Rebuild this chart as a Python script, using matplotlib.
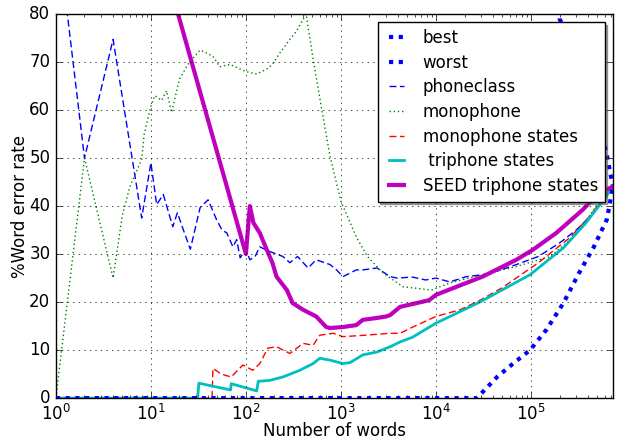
import matplotlib
matplotlib.use("Agg")
import matplotlib.pyplot as plt

# values (x = number of words, y = %word error rate)
best_n = [1, 2.7e4, 4.4e4, 6.5e4, 9.8e4, 1.45e5, 2.2e5, 3.2e5, 4.6e5, 6.3e5, 7.3e5]
best_err = [0, 0, 4.4, 7.2, 10, 14.2, 19.8, 26, 31.5, 37.2, 44]

worst_n = [1, 1.8e5, 2e5, 3e5, 4e5, 5e5, 6.3e5, 7.3e5]
worst_err = [100, 100, 79, 72.4, 65.8, 59.2, 50.6, 44]

phoneclass_n = [1, 2, 4, 8, 10, 11.5, 13.5, 17, 19, 22, 26, 33, 40, 49, 56, 63, 73, 80,
                87, 100, 110, 125, 140, 180, 245, 290, 350, 450, 550, 770, 900, 1050,
                1450, 1700, 2400, 3300, 3900, 5700, 7800, 1e4, 1.4e4, 2.1e4, 3.1e4,
                4.5e4, 7e4, 1.2e5, 2e5, 3e5, 4.6e5, 6e5, 7.3e5]
phoneclass_err = [100, 50, 74.7, 37.5, 49, 40.3, 42.4, 35.7, 38.6, 35, 31, 39.7, 41.3,
                  37.2, 35, 34.4, 31.5, 33, 29.2, 31, 28.8, 29.5, 31.5, 30.5, 29.5,
                  28.2, 29.5, 27.1, 28.8, 27.8, 26.7, 25.3, 26.7, 26.7, 27.1, 25.3, 25,
                  25.2, 24.6, 25, 24.2, 25.3, 25.7, 26.5, 27.8, 29.5, 32.3, 35, 38.6,
                  41.5, 44]

mono_n = [1, 2, 4, 5, 6, 8, 8.5, 10, 11, 13, 14.6, 16.5, 20, 25, 33, 45, 53, 68, 100,
          130, 165, 190, 230, 290, 340, 430, 510, 630, 770, 1000, 1450, 1900, 2800,
          4500, 9000, 1.4e4, 3.1e4, 7e4, 1.6e5, 2.6e5, 3.8e5, 5.8e5, 7.3e5]
mono_err = [0, 50, 25, 38, 44, 49.7, 55, 60.8, 63, 62, 64, 59.5, 66.4, 69.8, 72.5, 71.2,
            69, 69.5, 68, 67.5, 68.5, 69.5, 72, 74.7, 76.4, 80, 70.6, 60, 50.3, 41, 33.6,
            29.5, 26, 23.2, 22.5, 24, 25.7, 27.4, 29.5, 33, 37, 42, 44]

mono_states_n = [1, 44, 45, 55, 70, 93, 118, 140, 170, 210, 290, 400, 510, 600, 830,
                 1050, 1800, 3300, 4200, 5700, 1e4, 1.8e4, 3e4, 5e4, 1.2e5, 2.6e5, 4e5,
                 6e5, 7.3e5]
mono_states_err = [0, 0, 6.2, 5.0, 4.4, 6.9, 5.8, 7.2, 10.4, 10.7, 9.3, 11.4, 11, 13.1,
                   13.5, 12.8, 13.1, 13.5, 13.5, 14.8, 17, 18.4, 20.5, 23, 28.2, 33.5,
                   37.5, 42, 44]

tri_n = [1, 31, 32, 69, 70, 130, 135, 180, 245, 370, 510, 600, 770, 1050, 1250, 1700,
         2400, 3300, 4200, 5700, 1e4, 2.9e4, 9.8e4, 2.2e5, 3.8e5, 5.8e5, 7.3e5]
tri_err = [0, 0, 3.1, 1.7, 3.0, 1.5, 3.5, 3.7, 4.4, 5.8, 7.2, 8.3, 7.9, 7.2, 7.4, 9,
           9.6, 10.7, 11.7, 12.7, 15.6, 20, 25.7, 31.3, 36.5, 41.3, 44]

seed_n = [10, 100, 110, 120, 140, 165, 190, 210, 270, 310, 400, 550, 700, 770, 1050,
          1450, 1700, 2400, 3000, 3300, 4200, 6300, 8500, 1e4, 2.1e4, 3.1e4, 7e4,
          1.05e5, 1.85e5, 3.5e5, 5.2e5, 7.3e5]
seed_err = [100, 30, 40, 36.5, 34.4, 31, 28.2, 25.3, 22.5, 19.8, 18.4, 17, 14.8, 14.6,
            14.8, 15.2, 16.3, 16.7, 17, 17.3, 19, 19.8, 20.4, 21.5, 24, 25.3, 28.8,
            30.9, 34.4, 39.2, 42.8, 44]

plt.style.use("classic")
plt.rcParams["figure.facecolor"] = "white"
plt.rcParams["savefig.facecolor"] = "white"

fig = plt.figure(figsize=(6.21, 4.37), dpi=100)
ax = fig.add_axes([0.090, 0.089, 0.897, 0.879])

ax.plot(best_n, best_err, "b:", lw=3, dashes=(3, 4), label="best", zorder=5)
ax.plot(worst_n, worst_err, "b:", lw=3, dashes=(3, 4), label="worst")
ax.plot(phoneclass_n, phoneclass_err, "b--", lw=1, dashes=(5, 2.5), label="phoneclass")
ax.plot(mono_n, mono_err, "g:", lw=1, dashes=(1, 2), label="monophone")
ax.plot(mono_states_n, mono_states_err, "r--", lw=1, dashes=(5, 2.5),
        label="monophone states")
ax.plot(tri_n, tri_err, "c-", lw=2, label=" triphone states")
ax.plot(seed_n, seed_err, "m-", lw=3, label="SEED triphone states")

ax.set_xscale("log")
ax.set_xlim(1, 7.3e5)
ax.set_ylim(0, 80)
ax.grid(True)
ax.set_xlabel("Number of words", labelpad=-1)
ax.set_ylabel("%Word error rate", labelpad=0)

ax.legend(loc="upper right", fontsize=12, shadow=True, handlelength=1.5,
          labelspacing=0.4)

fig.savefig("out.png", dpi=100)
